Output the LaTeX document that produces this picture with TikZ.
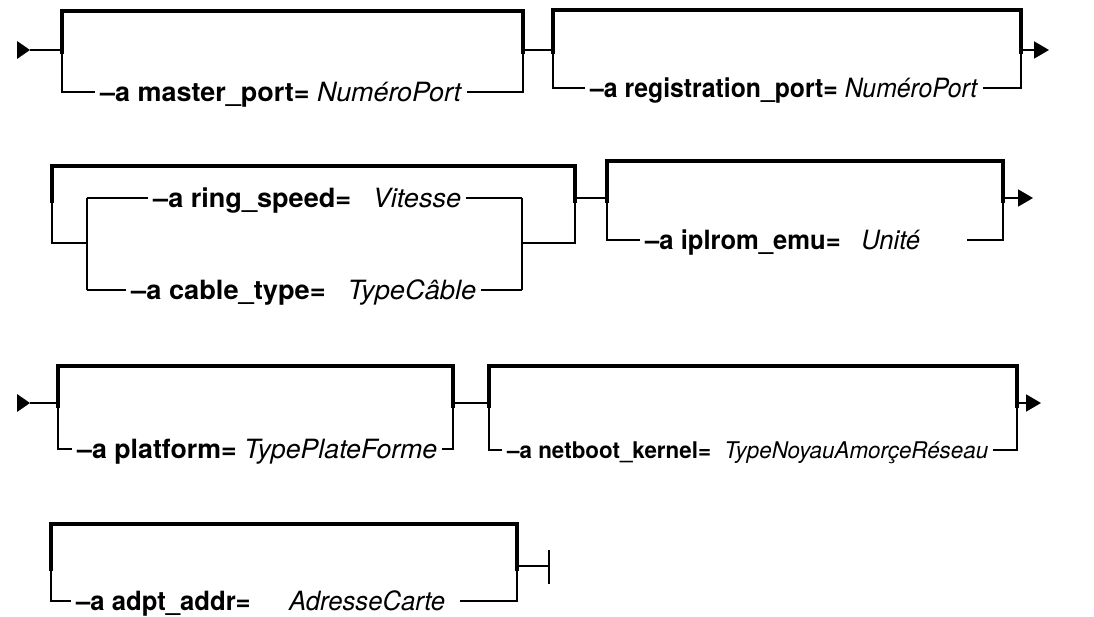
\documentclass[tikz,border=0pt]{standalone}
\usepackage{fontspec}
\usepackage{graphicx}
\setmainfont{TeX Gyre Heros}
\usetikzlibrary{arrows.meta}
\newcommand{\rlab}[4]{\resizebox{#1}{\height}{\textbf{#2}\hspace{#3}\textit{#4}}}
\begin{document}
\begin{tikzpicture}[x=1pt,y=-1pt,
  thickrail/.style={line width=4.8pt,line join=miter},
  thinrail/.style={line width=1.9pt},
  lbl/.style={anchor=base west,inner xsep=5pt,inner ysep=0pt,font=\fontsize{26.5}{30}\selectfont},
  smalllbl/.style={lbl,font=\fontsize{23}{27}\selectfont},
  endarrow/.style={thinrail,-{Triangle[length=15pt,width=17pt]}},
  starttri/.style={fill=black},
]
\useasboundingbox (0,0) rectangle (1094,617);

% ---------------- Row 1 ----------------
\coordinate (r1tip) at (30,50);
\coordinate (b1l) at (62,50);   \coordinate (b1r) at (523,50);
\coordinate (b1tl) at (62,11);  \coordinate (b1tr) at (523,11);
\coordinate (b1bot) at (62,92);
\coordinate (b2l) at (553,50);  \coordinate (b2r) at (1021,50);
\coordinate (b2tl) at (553,10); \coordinate (b2tr) at (1021,10);
\coordinate (b2bot) at (553,88);
\coordinate (r1end) at (1049,50);

\fill[starttri] (r1tip) ++(-13,-9) -- ++(13,9) -- ++(-13,9) -- cycle;
\draw[thinrail] (r1tip) -- (b1l);

\node[lbl] (t1) at (95,101.5) {\rlab{362pt}{–a master\_port=}{0.28em}{NuméroPort}};
\draw[thickrail] ([yshift=-4pt]b1l) -- (b1tl) -- (b1tr) -- ([yshift=-4pt]b1r);
\draw[thinrail] (b1l) |- (t1.west |- b1bot);
\draw[thinrail] (t1.east |- b1bot) -| (b1r);
\draw[thinrail] (b1r) -- (b2l);

\node[lbl] (t2) at (585,97.5) {\rlab{388pt}{–a registration\_port=}{0.28em}{NuméroPort}};
\draw[thickrail] ([yshift=-4pt]b2l) -- (b2tl) -- (b2tr) -- ([yshift=-4pt]b2r);
\draw[thinrail] (b2l) |- (t2.west |- b2bot);
\draw[thinrail] (t2.east |- b2bot) -| (b2r);
\draw[endarrow] (b2r) -- (r1end);

% ---------------- Row 2 ----------------
\coordinate (b3l) at (52,198);  \coordinate (b3r) at (575,198);
\coordinate (b3tl) at (52,166); \coordinate (b3tr) at (575,166);
\coordinate (b3bot) at (52,243);
\coordinate (i3l) at (87,243);  \coordinate (i3r) at (522,243);
\coordinate (i3lt) at (87,198); \coordinate (i3rt) at (522,198);
\coordinate (i3lb) at (87,290); \coordinate (i3rb) at (522,290);
\coordinate (b4l) at (607,198); \coordinate (b4r) at (1003,198);
\coordinate (b4tl) at (607,161);\coordinate (b4tr) at (1003,161);
\coordinate (b4bot) at (607,240);
\coordinate (r2end) at (1033,198);

\draw[thickrail] ([yshift=-5pt]b3l) -- (b3tl) -- (b3tr) -- ([yshift=-5pt]b3r);
\draw[thinrail] (b3l) |- (i3l);
\draw[thinrail] (i3r) -| (b3r);
\draw[thinrail] (i3lt) -- (i3lb);
\draw[thinrail] (i3rt) -- (i3rb);
\node[lbl] (t3) at (148,207.5) {\rlab{308pt}{–a ring\_speed=}{0.8em}{Vitesse}};
\node[lbl] (t4) at (126,299.5) {\rlab{345pt}{–a cable\_type=}{0.8em}{TypeCâble}};
\draw[thinrail] (i3lt) -- (t3.west |- i3lt);
\draw[thinrail] (t3.east |- i3rt) -- (i3rt);
\draw[thinrail] (i3lb) -- (t4.west |- i3lb);
\draw[thinrail] (t4.east |- i3rb) -- (i3rb);
\draw[thinrail] (b3r) -- (b4l);

\node[lbl] (t5) at (640,249.5) {\rlab{275pt}{–a iplrom\_emu=}{0.8em}{Unité}};
\draw[thickrail] ([yshift=-5pt]b4l) -- (b4tl) -- (b4tr) -- ([yshift=-5pt]b4r);
\draw[thinrail] (b4l) |- (t5.west |- b4bot);
\draw[thinrail] ([xshift=42pt]t5.east |- b4bot) -| (b4r);
\draw[endarrow] (b4r) -- (r2end);

% ---------------- Row 3 ----------------
\coordinate (r3tip) at (30,403);
\coordinate (b5l) at (58,403);  \coordinate (b5r) at (453,403);
\coordinate (b5tl) at (58,366); \coordinate (b5tr) at (453,366);
\coordinate (b5bot) at (58,449);
\coordinate (b6l) at (489,403); \coordinate (b6r) at (1017,403);
\coordinate (b6tl) at (489,366);\coordinate (b6tr) at (1017,366);
\coordinate (b6bot) at (489,450);
\coordinate (r3end) at (1041,403);

\fill[starttri] (r3tip) ++(-13,-9) -- ++(13,9) -- ++(-13,9) -- cycle;
\draw[thinrail] (r3tip) -- (b5l);

\node[lbl] (t6) at (72,458.5) {\rlab{360pt}{–a platform=}{0.28em}{TypePlateForme}};
\draw[thickrail] ([yshift=-5pt]b5l) -- (b5tl) -- (b5tr) -- ([yshift=-5pt]b5r);
\draw[thinrail] (b5l) |- (t6.west |- b5bot);
\draw[thinrail] (t6.east |- b5bot) -| (b5r);
\draw[thinrail] (b5r) -- (b6l);

\node[smalllbl] (t7) at (502,458.5) {\rlab{481pt}{–a netboot\_kernel=}{0.6em}{TypeNoyauAmorçeRéseau}};
\draw[thickrail] ([yshift=-5pt]b6l) -- (b6tl) -- (b6tr) -- ([yshift=-5pt]b6r);
\draw[thinrail] (b6l) |- (t7.west |- b6bot);
\draw[thinrail] (t7.east |- b6bot) -| (b6r);
\draw[endarrow] (b6r) -- (r3end);

% ---------------- Row 4 ----------------
\coordinate (b7l) at (51,566);  \coordinate (b7r) at (517,566);
\coordinate (b7tl) at (51,524); \coordinate (b7tr) at (517,524);
\coordinate (b7bot) at (51,601);
\coordinate (r4end) at (549,566);

\node[lbl] (t8) at (71,610) {\rlab{369pt}{–a adpt\_addr=}{1.5em}{AdresseCarte}};
\draw[thickrail] ([yshift=-5pt]b7l) -- (b7tl) -- (b7tr) -- ([yshift=-5pt]b7r);
\draw[thinrail] (b7l) |- (t8.west |- b7bot);
\draw[thinrail] ([xshift=10pt]t8.east |- b7bot) -| (b7r);
\draw[thinrail] (b7r) -- (r4end);
\draw[thinrail] ([yshift=16pt]r4end) -- ([yshift=-18pt]r4end);
\end{tikzpicture}
\end{document}
